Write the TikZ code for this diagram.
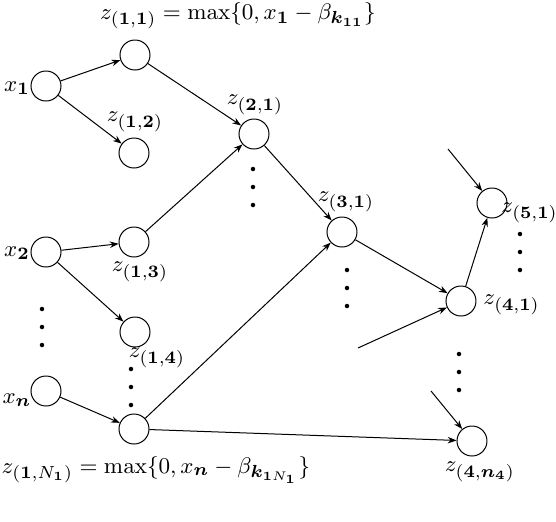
\documentclass[tikz,border=0pt]{standalone}
\usepackage{amsmath}
\usepackage{amssymb}
\usepackage{bm}
\usetikzlibrary{arrows.meta, positioning}

\newcommand{\zlab}[2]{z_{(\mathbf{#1},\mathbf{#2})}}

\begin{document}
\begin{tikzpicture}[x=0.4pt, y=-0.4pt,
    unit/.style={circle, draw=black, minimum size=12pt, inner sep=0pt},
    arrow/.style={-{Stealth[length=3.5pt, width=2.6pt]}},
    label/.style={inner sep=0pt, font=\fontsize{9.4}{11}\selectfont},
    dot/.style={fill=black}
]
\useasboundingbox (0,0) rectangle (556,522);

% Units
\node[unit] (X1) at (46,86) {};
\node[unit] (X2) at (46,252) {};
\node[unit] (Xn) at (46,391) {};

\node[unit] (Z11) at (135,55) {};
\node[unit] (Z12) at (134,153) {};
\node[unit] (Z13) at (134,242) {};
\node[unit] (Z14) at (135,332) {};
\node[unit] (Z1N) at (134,429) {};

\node[unit] (Z21) at (254,134) {};
\node[unit] (Z31) at (342,232) {};
\node[unit] (Z41) at (461,301) {};
\node[unit] (Z4N) at (472,441) {};
\node[unit] (Z51) at (492,203) {};

% Labels
\node[label] (LX1) at (17,88) {$x_{\mathbf{1}}$};
\node[label] (LX2) at (17,253) {$x_{\mathbf{2}}$};
\node[label] (LXn) at (17,400) {$x_{\bm{n}}$};

\node[label] (LZ11) at (238,16) {$\zlab{1}{1} = \max\{0, x_{\mathbf{1}} - \beta_{\bm{k}_{\mathbf{11}}}\}$};
\node[label] (LZ12) at (135,122) {$\zlab{1}{2}$};
\node[label] (LZ13) at (140,272) {$\zlab{1}{3}$};
\node[label] (LZ14) at (157,358) {$\zlab{1}{4}$};
\node[label] (LZ1N) at (156,470) {$z_{(\mathbf{1},N_{\mathbf{1}})} = \max\{0, x_{\bm{n}} - \beta_{\bm{k}_{\mathbf{1}N_{\mathbf{1}}}}\}$};

\node[label] (LZ21) at (255,105) {$\zlab{2}{1}$};
\node[label] (LZ31) at (346,202) {$\zlab{3}{1}$};
\node[label, anchor=west] (LZ41) at (483,305) {$\zlab{4}{1}$};
\node[label] (LZ4N) at (480,472) {$z_{(\mathbf{4},\bm{n}_{\mathbf{4}})}$};
\node[label, anchor=west] (LZ51) at (501,213) {$\zlab{5}{1}$};

% Layer 1
\draw[arrow] (X1) -- (Z11);
\draw[arrow] (X1) -- (Z12);
\draw[arrow] (X2) -- (Z13);
\draw[arrow] (X2) -- (Z14);
\draw[arrow] (Xn) -- (Z1N);

% Deeper layers
\draw[arrow] (Z11) -- (Z21);
\draw[arrow] (Z13) -- (Z21);
\draw[arrow] (Z21) -- (Z31);
\draw[arrow] (Z1N) -- (Z31);
\draw[arrow] (Z31) -- (Z41);
\draw[arrow] (Z41) -- (Z51);
\draw[arrow] (Z1N) -- (Z4N);

% Inputs from units not drawn
\coordinate (In51) at (448,149);
\coordinate (In41) at (358,348);
\coordinate (In4N) at (431,391);
\draw[arrow] (In51) -- (Z51);
\draw[arrow] (In41) -- (Z41);
\draw[arrow] (In4N) -- (Z4N);

% Vertical dots
\foreach \px/\py in {42/309, 131/369, 253/169, 347/270, 459/354, 520/234}
  \foreach \k in {0,1,2}
    \fill[dot] (\px,{\py+\k*18}) circle (0.9pt);

\end{tikzpicture}
\end{document}
